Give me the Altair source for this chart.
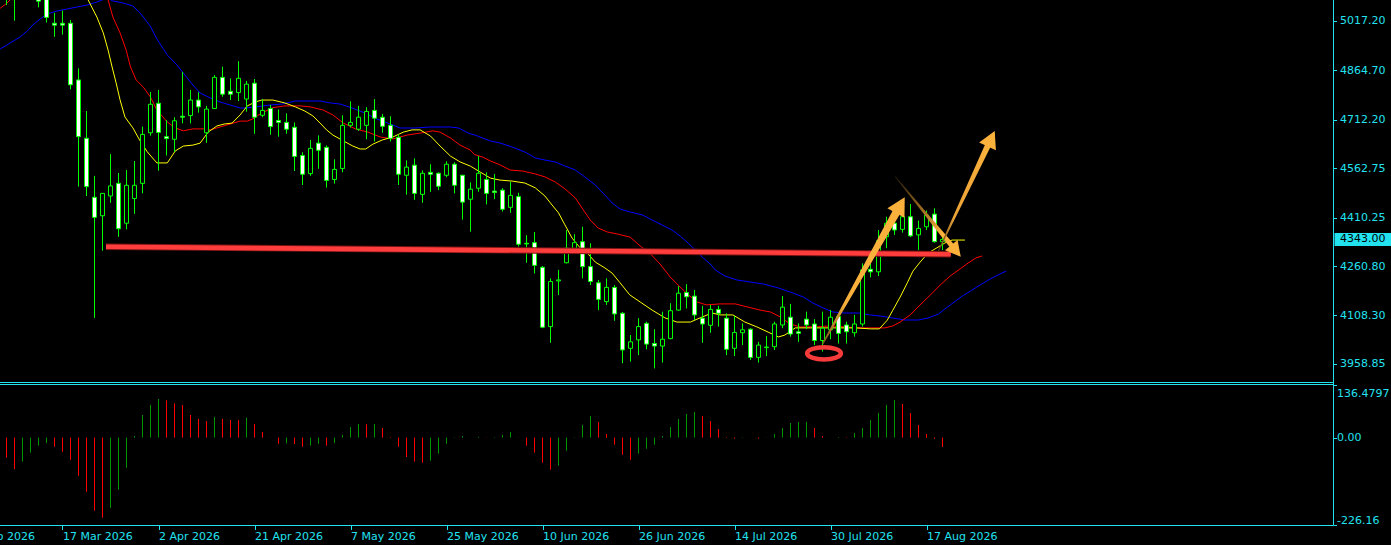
import json
import math

import altair as alt
import pandas as pd

# ---------------------------------------------------------------------------
# Daily candles, bar index 0..117
# ---------------------------------------------------------------------------
OPEN = [
    5115, 5130, 5100, 5125, 5112, 5095, 5010, 5010, 5010, 4835,
    4655, 4473, 4416, 4477, 4516, 4393, 4469, 4516, 4672, 4763,
    4660, 4652, 4723, 4725, 4773, 4672, 4747, 4843, 4800, 4796,
    4776, 4825, 4726, 4747, 4710, 4704, 4689, 4602, 4546, 4640,
    4627, 4528, 4562, 4695, 4683, 4695, 4741, 4720, 4695, 4658,
    4541, 4572, 4482, 4550, 4547, 4541, 4575, 4541, 4467, 4501,
    4528, 4492, 4495, 4442, 4475, 4331, 4333, 4257, 4074, 4215,
    4271, 4312, 4336, 4259, 4209, 4151, 4195, 4115, 4007, 4033,
    4084, 4022, 4014, 4037, 4125, 4179, 4168, 4100, 4078, 4127,
    4100, 4007, 4055, 4066, 3979, 4009, 4012, 4079, 4103, 4058,
    4097, 4082, 4031, 4064, 4105, 4079, 4055, 4082, 4251, 4243,
    4351, 4393, 4374, 4413, 4357, 4382, 4421, 4336,
]
HIGH = [
    5165, 5170, 5150, 5160, 5130, 5110, 5042, 5049, 5020, 4871,
    4739, 4539, 4485, 4606, 4548, 4557, 4585, 4691, 4798, 4804,
    4711, 4720, 4860, 4804, 4797, 4755, 4850, 4876, 4840, 4893,
    4832, 4838, 4776, 4758, 4744, 4732, 4704, 4612, 4650, 4664,
    4633, 4590, 4726, 4769, 4755, 4751, 4776, 4730, 4723, 4667,
    4587, 4593, 4556, 4575, 4550, 4584, 4581, 4542, 4519, 4600,
    4550, 4545, 4501, 4521, 4487, 4356, 4366, 4261, 4223, 4249,
    4372, 4359, 4382, 4331, 4218, 4223, 4202, 4119, 4048, 4100,
    4089, 4066, 4120, 4146, 4199, 4205, 4187, 4138, 4141, 4138,
    4115, 4107, 4084, 4069, 4027, 4045, 4089, 4168, 4144, 4084,
    4120, 4097, 4120, 4125, 4110, 4089, 4110, 4269, 4269, 4372,
    4413, 4401, 4432, 4452, 4401, 4432, 4439, 4357,
]
LOW = [
    5066, 5018, 5088, 5090, 5059, 5012, 4968, 4975, 4806, 4506,
    4477, 4101, 4308, 4456, 4351, 4374, 4422, 4485, 4663, 4555,
    4602, 4613, 4701, 4701, 4734, 4641, 4745, 4783, 4773, 4770,
    4737, 4669, 4720, 4666, 4660, 4669, 4554, 4511, 4539, 4561,
    4503, 4515, 4550, 4688, 4678, 4652, 4645, 4672, 4645, 4511,
    4481, 4465, 4456, 4490, 4495, 4535, 4485, 4404, 4367, 4490,
    4451, 4467, 4429, 4425, 4321, 4271, 4238, 4069, 4024, 4171,
    4269, 4300, 4223, 4202, 4125, 4141, 4092, 3961, 3966, 3986,
    4004, 3945, 3963, 4035, 4123, 4130, 4094, 4024, 4055, 4074,
    3986, 3983, 4017, 3971, 3963, 3983, 4002, 4069, 4043, 4027,
    4066, 4017, 3997, 4035, 4022, 4022, 4043, 4074, 4226, 4230,
    4316, 4357, 4364, 4350, 4310, 4372, 4333, 4310,
]
CLOSE = [
    5140, 5100, 5125, 5112, 5078, 5028, 5004, 5004, 4820, 4660,
    4506, 4411, 4485, 4508, 4376, 4510, 4510, 4667, 4760, 4673,
    4654, 4709, 4720, 4773, 4752, 4745, 4843, 4791, 4791, 4840,
    4822, 4720, 4741, 4691, 4704, 4683, 4599, 4544, 4624, 4618,
    4525, 4559, 4695, 4704, 4720, 4738, 4717, 4692, 4655, 4544,
    4566, 4485, 4547, 4544, 4507, 4575, 4510, 4458, 4498, 4547,
    4485, 4488, 4436, 4479, 4328, 4329, 4263, 4072, 4213, 4218,
    4316, 4333, 4259, 4213, 4158, 4195, 4113, 4002, 4027, 4074,
    4020, 4014, 4035, 4123, 4177, 4166, 4110, 4082, 4127, 4115,
    4004, 4056, 4064, 3979, 4017, 4011, 4082, 4134, 4051, 4053,
    4079, 4031, 4069, 4103, 4053, 4058, 4082, 4249, 4243, 4339,
    4393, 4372, 4413, 4354, 4377, 4418, 4336, 4343.00,
]

# Awesome-oscillator style histogram, one value per bar, with its bar colour
AO = [
    -51.8, -81.0, -62.1, -38.9, -20.9, -13.9, -23.5, -36.4, -57.0, -98.3,
    -139.5, -188.5, -206.6, -180.8, -134.4, -77.6, 4.1, 58.3, 84.1, 99.6,
    96.2, 88.5, 84.1, 58.3, 48.0, 42.8, 53.1, 48.0, 45.4, 45.0,
    51.3, 35.1, 14.4, -0.5, -15.7, -15.0, -16.5, -23.5, -20.9, -15.7,
    -20.9, -13.9, 6.7, 27.3, 35.1, 34.6, 35.3, 24.8, 1.5, -23.5,
    -50.0, -62.1, -64.7, -59.6, -41.5, -15.7, 1.0, 4.1, 0.3, 2.0,
    0.5, 1.2, 6.7, 14.4, -0.5, -20.9, -38.9, -64.7, -82.8, -72.5,
    -33.8, 1.0, 32.5, 55.7, 40.2, 9.3, -18.3, -44.1, -57.0, -41.5,
    -28.6, -18.3, 4.1, 27.3, 48.0, 60.9, 66.0, 55.7, 42.8, 22.2,
    1.5, -2.5, -1.0, -0.3, -2.5, -0.5, 9.3, 24.8, 37.7, 40.2,
    40.5, 24.8, 4.1, 0.3, 1.5, 1.2, 11.9, 24.8, 45.4, 63.4,
    84.1, 97.0, 86.7, 63.4, 32.5, 9.3, -3.0, -24.2,
]
AO_UP = list(
    "rrggggrrrr" "rrrggggggg" "rrrrrrgrrr" "grrrrgrrgg" "rggggrgrrr"
    "rrrgggggrg" "rgggrrrrrg" "ggggrrrrrg" "gggggggrrr" "rrggrggggg"
    "grrrgrgggg" "ggrrrrrr"
)

# Alligator lines as (bar position, price); jaw/teeth/lips run 8/5/3 bars ahead
JAW = [
    (-0.8, 4930.5), (0.46, 4949.0), (1.7, 4967.5), (2.6, 4986.0), (3.3, 5004.6),
    (4.2, 5023.1), (5.1, 5038.5), (6.3, 5047.8), (7.6, 5053.9), (8.8, 5060.1),
    (10.1, 5066.3), (11.3, 5075.5), (12.6, 5088.0), (13.3, 5078.6), (14.6, 5072.4),
    (15.8, 5063.2), (16.7, 5041.6), (17.96, 5001.5), (18.8, 4961.4), (20.1, 4912.0),
    (21.3, 4881.1), (22.3, 4850.3), (23.3, 4819.4), (24.2, 4794.7), (25.5, 4779.3),
    (26.7, 4767.0), (27.96, 4757.7), (29.2, 4748.5), (29.8, 4748.5), (31.1, 4751.6),
    (32.96, 4757.7), (34.5, 4760.8), (36.1, 4770.1), (37.96, 4770.1), (39.2, 4770.1),
    (40.5, 4763.9), (41.7, 4760.8), (43.2, 4748.5), (44.8, 4733.0), (46.3, 4714.5),
    (47.96, 4699.1), (49.2, 4686.8), (51.1, 4686.8), (52.96, 4689.8), (55.5, 4689.8),
    (56.5, 4686.8), (57.7, 4671.3), (58.7, 4663.6), (60.5, 4646.6), (61.7, 4640.5),
    (63.2, 4628.1), (64.8, 4612.7), (66.1, 4594.2), (67.3, 4588.0), (68.6, 4581.8),
    (69.8, 4569.5), (71.1, 4557.2), (72.3, 4535.6), (73.6, 4510.9), (74.8, 4480.0),
    (75.7, 4455.4), (76.7, 4436.8), (77.96, 4427.6), (79.5, 4418.3), (80.7, 4402.9),
    (81.96, 4387.5), (83.2, 4372.0), (84.2, 4353.5), (85.2, 4331.9), (86.1, 4310.3),
    (87.1, 4285.6), (87.96, 4267.1), (88.6, 4248.6), (89.8, 4230.1), (91.3, 4217.8),
    (92.96, 4211.6), (94.6, 4205.4), (96.5, 4193.1), (97.96, 4180.7), (99.6, 4165.3),
    (100.8, 4146.8), (102.1, 4131.4), (103.3, 4119.0), (104.8, 4115.9), (106.5, 4115.9),
    (107.96, 4109.8), (109.2, 4106.7), (110.8, 4100.5), (112.3, 4094.3), (113.96, 4094.3),
    (115.2, 4100.5), (116.5, 4112.8), (117.3, 4128.3), (118.3, 4146.8), (119.5, 4168.4),
    (120.5, 4183.9), (121.7, 4202.3), (122.96, 4220.8), (124.2, 4236.3), (124.96, 4245.5),
]
TEETH = [
    (-0.8, 5056), (0.05, 5072), (2.0, 5120), (7.0, 5175), (11.7, 5160),
    (12.7, 5082), (13.3, 5029), (14.2, 4980), (14.96, 4927), (15.5, 4875),
    (16.2, 4835), (17.1, 4813), (18.0, 4782), (18.8, 4742), (20.1, 4705),
    (21.1, 4687), (22.1, 4678), (23.3, 4684), (24.6, 4684), (25.5, 4681),
    (26.7, 4690), (27.96, 4699), (29.2, 4708), (30.1, 4708), (30.8, 4715),
    (31.7, 4730), (33.2, 4749), (34.8, 4755), (36.7, 4755), (37.96, 4752),
    (39.6, 4742), (40.8, 4727), (42.1, 4702), (43.6, 4684), (45.2, 4674),
    (46.7, 4659), (48.3, 4653), (50.1, 4665), (51.7, 4671), (53.3, 4678),
    (54.2, 4674), (55.5, 4656), (56.7, 4634), (57.96, 4619), (58.5, 4605),
    (59.5, 4597), (60.5, 4585), (61.7, 4573), (62.96, 4557), (64.5, 4554),
    (66.1, 4545), (67.3, 4536), (68.6, 4520), (69.8, 4499), (71.1, 4471),
    (72.1, 4434), (72.96, 4403), (73.96, 4378), (75.1, 4366), (76.3, 4360),
    (77.96, 4350), (79.2, 4323), (80.5, 4298), (81.7, 4267), (82.96, 4227),
    (83.96, 4202), (85.1, 4175), (86.3, 4150), (87.5, 4141), (89.2, 4144),
    (91.1, 4144), (92.7, 4134), (94.2, 4125), (95.5, 4119), (96.7, 4104),
    (97.96, 4082), (99.2, 4073), (101.1, 4073), (102.96, 4076), (104.8, 4073),
    (106.7, 4070), (108.2, 4070), (109.8, 4070), (110.8, 4076), (111.7, 4088),
    (112.96, 4110), (114.2, 4141), (115.5, 4172), (116.7, 4202), (117.96, 4230),
    (119.2, 4252), (120.2, 4270), (121.2, 4286), (121.96, 4292),
]
LIPS = [
    (-0.8, 5230), (8.5, 5160), (10.2, 5082), (11.3, 5029), (12.1, 4980),
    (12.7, 4927), (13.2, 4875), (13.7, 4826), (14.2, 4773), (14.8, 4721),
    (15.8, 4687), (16.7, 4647), (17.6, 4613), (18.8, 4579), (20.1, 4579),
    (21.1, 4616), (22.1, 4631), (23.3, 4634), (24.2, 4640), (25.2, 4674),
    (26.3, 4693), (27.2, 4699), (28.2, 4702), (29.2, 4727), (30.1, 4755),
    (31.1, 4767), (31.9, 4773), (33.3, 4773), (34.8, 4764), (36.1, 4752),
    (37.3, 4739), (38.3, 4724), (39.2, 4702), (40.0, 4681), (40.8, 4665),
    (42.1, 4647), (43.3, 4631), (44.2, 4622), (44.9, 4622), (45.8, 4637),
    (47.0, 4650), (48.3, 4659), (49.6, 4674), (50.7, 4681), (51.7, 4681),
    (53.0, 4662), (54.2, 4631), (55.5, 4600), (56.7, 4582), (58.0, 4569),
    (59.2, 4551), (60.5, 4532), (61.7, 4526), (63.2, 4523), (64.8, 4517),
    (66.1, 4502), (67.3, 4477), (68.2, 4449), (69.0, 4425), (69.8, 4388),
    (70.7, 4347), (71.7, 4317), (72.6, 4301), (73.6, 4273), (74.8, 4255),
    (75.7, 4239), (76.7, 4209), (77.9, 4172), (79.2, 4150), (80.7, 4125),
    (82.3, 4101), (83.8, 4088), (85.5, 4088), (86.7, 4101), (88.2, 4116),
    (89.2, 4110), (90.8, 4110), (92.3, 4088), (93.8, 4073), (95.2, 4057),
    (96.5, 4042), (97.3, 4048), (98.6, 4070), (100.5, 4070), (102.3, 4070),
    (104.2, 4070), (106.1, 4070), (108.0, 4067), (109.1, 4067), (110.1, 4094),
    (110.8, 4125), (111.7, 4165), (112.6, 4209), (113.3, 4245), (114.2, 4273),
    (115.2, 4301), (116.3, 4317), (117.3, 4332), (118.2, 4341), (119.0, 4341),
    (119.8, 4341),
]

# Hand-drawn markup: support line, circled low, three arrows
SUPPORT = [(12.44, 4320.2), (118.03, 4297.4)]
LOW_MARK = (102.19, 3991.6)
# name, tail bar, tail price, tip bar, tip price, tail width, shaft width, head length
ARROWS = [
    ("breakout", 102.06, 4022.5, 112.28, 4472.9, 1.5, 8.0, 18.0),
    ("pullback", 111.10, 4536.5, 119.28, 4289.6, 0.8, 5.0, 15.0),
    ("target", 116.44, 4305.1, 123.53, 4677.5, 1.0, 6.0, 17.0),
]
ARROW_FADE = {
    "breakout": [("#7a5418", 0.0), ("#F9B13C", 0.3), ("#FBB23C", 1.0)],
    "pullback": [("#241805", 0.0), ("#a87426", 0.5), ("#FBB23C", 0.78), ("#FBB23C", 1.0)],
    "target": [("#4a3410", 0.0), ("#eaa238", 0.3), ("#FBB23C", 1.0)],
}

# Axis labels
PRICE_TICKS = [5017.20, 4864.70, 4712.20, 4562.75, 4410.25, 4260.80, 4108.30, 3958.85]
HIST_TICKS = [136.4797, 0.0, -226.16]
HIST_TICK_TEXT = ["136.4797", "0.00", "-226.16"]
DATE_IDX = [-5, 7, 19, 31, 43, 55, 67, 79, 91, 103, 115]
DATE_TEXT = [
    "27 Feb 2026", "17 Mar 2026", "2 Apr 2026", "21 Apr 2026", "7 May 2026",
    "25 May 2026", "10 Jun 2026", "26 Jun 2026", "14 Jul 2026", "30 Jul 2026",
    "17 Aug 2026",
]

# ---------------------------------------------------------------------------
# Layout (pixels) and styling
# ---------------------------------------------------------------------------
W, H = 1391, 545
BAR_PX, BAR0_PX = 8.0, 6.5          # bar spacing and first bar centre
PRICE_TOP, PRICE_PER_PX = 5081.7, 3.0855
AXIS_X = 1333.5
SPLIT_Y = (382.5, 384.5)
HIST_TOP_PX, HIST_BOTTOM_PX = 384.7, 525.3
FRAME_BOTTOM = 525.5
DATE_TICK, DATE_PAD = 4, 1
TAG_HALF = 20.0                     # half-height of the last-price tag, in price units

BG = "#000000"
CYAN = "#22E2F0"
LIME = "#00FF00"
FONT = "DejaVu Sans"
ORANGE = "#FBB23C"
AO_COLORS = {"g": "#009400", "r": "#FF0000"}

HEAD_PATH = "M 0 0 L 0.87 1.6 L -0.87 1.6 Z"
ELLIPSE_PATH = "M -1 0 A 1 0.36 0 1 0 1 0 A 1 0.36 0 1 0 -1 0 Z"

x_lo, x_hi = (0 - BAR0_PX) / BAR_PX, (W - BAR0_PX) / BAR_PX
x_scale = alt.Scale(domain=[x_lo, x_hi], nice=False, zero=False, padding=0)
price_scale = alt.Scale(domain=[PRICE_TOP - H * PRICE_PER_PX, PRICE_TOP], nice=False, zero=False, padding=0)
hist_units = (HIST_TICKS[0] - HIST_TICKS[-1]) / (HIST_BOTTOM_PX - HIST_TOP_PX)
hist_scale = alt.Scale(
    domain=[HIST_TICKS[-1] - (H - HIST_BOTTOM_PX) * hist_units, HIST_TICKS[0] + HIST_TOP_PX * hist_units],
    nice=False, zero=False, padding=0,
)

in_view = [i for i in DATE_IDX if x_lo <= i <= x_hi]
date_axis = alt.Axis(
    orient="bottom", offset=-(H - FRAME_BOTTOM), values=in_view,
    labelExpr=f"{json.dumps(DATE_TEXT)}[indexof({json.dumps(DATE_IDX)}, datum.value)]",
    labelAlign="left", labelBaseline="top", labelPadding=DATE_PAD, labelFlush=False,
    labelOverlap=False, tickSize=DATE_TICK, tickColor=CYAN, labelColor=CYAN,
    domain=False, grid=False, title=None, labelFont=FONT, labelFontSize=11,
)
price_axis = alt.Axis(
    orient="right", offset=-(W - AXIS_X), values=PRICE_TICKS, format=".2f",
    domain=False, grid=False, tickSize=3, tickColor=CYAN, labelColor=CYAN,
    labelPadding=3, labelFlush=False, labelOverlap=False, title=None,
    labelFont=FONT, labelFontSize=11,
)
hist_axis = alt.Axis(
    orient="right", offset=-(W - AXIS_X), values=HIST_TICKS,
    labelExpr=f"{json.dumps(HIST_TICK_TEXT)}[indexof({json.dumps(HIST_TICKS)}, datum.value)]",
    labelBaseline={"condition": [{"test": "datum.value > 100", "value": "top"},
                                 {"test": "datum.value < -100", "value": "bottom"}],
                   "value": "middle"},
    labelOffset={"condition": [{"test": "datum.value > 100", "value": 3}],
                 "value": 0},
    domain=False, grid=False, tickSize=3, tickColor=CYAN, labelColor=CYAN,
    labelPadding=0, labelFlush=False, labelOverlap=False, title=None,
    labelFont=FONT, labelFontSize=11,
)


def X(field="idx"):
    return alt.X(f"{field}:Q", scale=x_scale, axis=date_axis)


def PY(field):
    return alt.Y(f"{field}:Q", scale=price_scale, axis=price_axis)


def HY(field):
    return alt.Y(f"{field}:Q", scale=hist_scale, axis=hist_axis)


# ---------------------------------------------------------------------------
# Tables
# ---------------------------------------------------------------------------
candles = pd.DataFrame({
    "idx": list(range(len(CLOSE))),
    "open": OPEN, "high": HIGH, "low": LOW, "close": CLOSE,
})
candles["dir"] = ["bull" if c >= o else "bear" for o, c in zip(OPEN, CLOSE)]

ao = pd.DataFrame({
    "idx": list(range(len(AO))),
    "zero": 0.0,
    "ao": AO,
    "col": [AO_COLORS[c] for c in AO_UP],
})


def line_df(points):
    return pd.DataFrame(points, columns=["idx", "price"])


def to_px(i, p):
    return BAR0_PX + i * BAR_PX, (PRICE_TOP - p) / PRICE_PER_PX


def to_data(x, y):
    return (x - BAR0_PX) / BAR_PX, PRICE_TOP - y * PRICE_PER_PX


arrow_layers = []
head_rows = []
for name, ti, tp, hi, hp, w_tail, w_shaft, head_len in ARROWS:
    tx, ty = to_px(ti, tp)
    hx, hy = to_px(hi, hp)
    length = math.hypot(hx - tx, hy - ty)
    ux, uy = (hx - tx) / length, (hy - ty) / length
    bx, by = hx - (head_len - 2) * ux, hy - (head_len - 2) * uy
    bi, bp = to_data(bx, by)
    shaft = pd.DataFrame({"idx": [ti, bi], "price": [tp, bp], "w": [w_tail, w_shaft], "k": [0, 1]})
    x1 = 0 if ux > 0 else 1
    y1 = 1 if uy < 0 else 0
    grad = alt.LinearGradient(
        gradient="linear",
        stops=[alt.GradientStop(color=c, offset=o) for c, o in ARROW_FADE[name]],
        x1=x1, y1=y1, x2=1 - x1, y2=1 - y1,
    )
    arrow_layers.append(
        alt.Chart(shaft).mark_trail(color=grad, clip=True).encode(
            x=X(), y=PY("price"), size=alt.Size("w:Q", scale=None), order="k:Q"
        )
    )
    r = head_len / 1.6
    head_rows.append({
        "idx": hi, "price": hp,
        "angle": math.degrees(math.atan2(ux, -uy)) % 360,
        "size": (2 * r) ** 2,
    })
heads = pd.DataFrame(head_rows)

support = line_df(SUPPORT)
low_mark = pd.DataFrame({"idx": [LOW_MARK[0]], "price": [LOW_MARK[1]]})
last = pd.DataFrame({
    "price": [CLOSE[-1]],
    "top": [CLOSE[-1] + TAG_HALF],
    "bot": [CLOSE[-1] - TAG_HALF],
    "label": [f"{CLOSE[-1]:.2f}"],
})
early_dates = pd.DataFrame({
    "idx": [i for i in DATE_IDX if i not in in_view],
    "label": [t for i, t in zip(DATE_IDX, DATE_TEXT) if i not in in_view],
})
one = pd.DataFrame({"k": [0]})

# ---------------------------------------------------------------------------
# Price panel
# ---------------------------------------------------------------------------
wicks = alt.Chart(candles).mark_rule(color=LIME, strokeWidth=1, clip=True).encode(
    x=X(), y=PY("low"), y2=alt.Y2("high")
)
bodies = alt.Chart(candles).mark_bar(width=4, stroke=LIME, strokeWidth=1, clip=True).encode(
    x=X(), y=PY("open"), y2=alt.Y2("close"),
    fill=alt.Fill("dir:N", scale=alt.Scale(domain=["bull", "bear"], range=["#000000", "#FFFFFF"]), legend=None),
)


def ma_line(points, color):
    return alt.Chart(line_df(points)).mark_line(color=color, strokeWidth=1, clip=True).encode(
        x=X(), y=PY("price"), order="idx:Q"
    )


support_shadow = alt.Chart(support).mark_line(color="#7a1414", strokeWidth=6.5, strokeCap="butt", clip=True).encode(
    x=X(), y=PY("price")
)
support_line = alt.Chart(support).mark_line(color="#FF3D3D", strokeWidth=4.6, strokeCap="butt", clip=True).encode(
    x=X(), y=PY("price")
)
circle = alt.Chart(low_mark).mark_point(
    shape=ELLIPSE_PATH, filled=False, color="#F73B3B", strokeWidth=4.5, size=1142, opacity=1, clip=True
).encode(x=X(), y=PY("price"))
arrow_heads = alt.Chart(heads).mark_point(
    shape=HEAD_PATH, filled=True, color=ORANGE, opacity=1, strokeWidth=0, clip=True
).encode(
    x=X(), y=PY("price"),
    angle=alt.Angle("angle:Q", scale=None),
    size=alt.Size("size:Q", scale=None),
)
tag_box = alt.Chart(last).mark_rect(color=CYAN).encode(
    x=alt.value(AXIS_X + 1), x2=alt.value(W), y=PY("top"), y2=alt.Y2("bot")
)
tag_text = alt.Chart(last).mark_text(
    align="left", baseline="middle", font=FONT, fontSize=11, color="#000000"
).encode(x=alt.value(AXIS_X + 6.5), y=PY("price"), text="label:N")

price_panel = alt.layer(
    ma_line(JAW, "#0000FF"),
    ma_line(TEETH, "#FF0000"),
    ma_line(LIPS, "#FFFF00"),
    wicks,
    bodies,
    support_shadow,
    support_line,
    circle,
    *arrow_layers,
    arrow_heads,
    tag_box,
    tag_text,
)

# ---------------------------------------------------------------------------
# Oscillator panel and frame
# ---------------------------------------------------------------------------
ao_bars = alt.Chart(ao).mark_rule(strokeWidth=1).encode(
    x=X(), y=HY("zero"), y2=alt.Y2("ao"), color=alt.Color("col:N", scale=None)
)


def hline(y, x0, x1):
    return alt.Chart(one).mark_rule(color=CYAN, strokeWidth=1).encode(
        x=alt.value(x0), x2=alt.value(x1), y=alt.value(y)
    )


def vline(x, y0, y1):
    return alt.Chart(one).mark_rule(color=CYAN, strokeWidth=1).encode(
        x=alt.value(x), y=alt.value(y0), y2=alt.value(y1)
    )


# date label whose tick lies left of the visible range (only its tail shows)
early_labels = alt.Chart(early_dates).mark_text(
    align="left", baseline="top", font=FONT, fontSize=11, color=CYAN
).encode(x=X(), y=alt.value(FRAME_BOTTOM + DATE_TICK + DATE_PAD), text="label:N")

hist_panel = alt.layer(
    ao_bars,
    early_labels,
    hline(SPLIT_Y[0], 0, AXIS_X),
    hline(SPLIT_Y[1], 0, AXIS_X),
    hline(FRAME_BOTTOM, 0, AXIS_X),
    vline(AXIS_X, 0, FRAME_BOTTOM),
)

chart = (
    alt.layer(price_panel, hist_panel)
    .resolve_scale(y="independent")
    .properties(
        width=W, height=H, padding=0, background=BG,
        autosize=alt.AutoSizeParams(type="none"),
    )
    .configure_view(strokeOpacity=0)
    .configure_axis(labelFont=FONT, labelFontSize=11)
)

chart.save("out.html", embed_options={"renderer": "svg", "actions": False})
